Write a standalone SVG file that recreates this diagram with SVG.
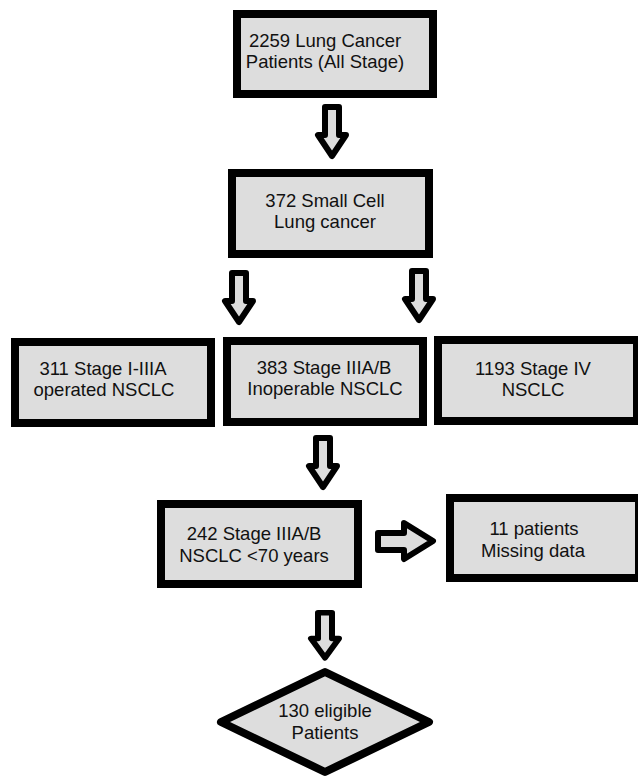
<svg xmlns="http://www.w3.org/2000/svg" width="638" height="777" viewBox="0 0 638 777">
<style>
.box{fill:#dddddd;stroke:#000;stroke-width:8}
.dia{fill:#dddddd;stroke:#000;stroke-width:8;stroke-linejoin:round}
.arr{fill:#dddddd;stroke:#000;stroke-width:6;stroke-linejoin:round}
text{font-family:"Liberation Sans",Arial,sans-serif;font-size:18.5px;fill:#111;text-anchor:middle}
</style>
<defs>
<path id="down" d="M-7,3 L7,3 L7,31 L14,31 L0,52 L-14,31 L-7,31 Z"/>
</defs>
<rect width="638" height="777" fill="#fff"/>
<g id="connectors">
<use href="#down" class="arr" transform="translate(332,104)"/>
<use href="#down" class="arr" transform="translate(239,270)"/>
<use href="#down" class="arr" transform="translate(419,268)"/>
<use href="#down" class="arr" transform="translate(323,435)"/>
<use href="#down" class="arr" transform="translate(325,610) scale(1,0.92)"/>
<path class="arr" d="M378,533 L404,533 L404,523 L433,541 L404,559 L404,550 L378,550 Z"/>
</g>
<g id="n1">
<rect class="box" x="237" y="14" width="196" height="80"/>
<text x="325" y="47">2259 Lung Cancer</text>
<text x="325" y="68">Patients (All Stage)</text>
</g>
<g id="n2">
<rect class="box" x="232" y="173" width="197" height="81"/>
<text x="325" y="207">372 Small Cell</text>
<text x="325" y="228">Lung cancer</text>
</g>
<g id="n3">
<rect class="box" x="15" y="342" width="196" height="81"/>
<text x="103" y="375">311 Stage I-IIIA</text>
<text x="104" y="396">operated NSCLC</text>
</g>
<g id="n4">
<rect class="box" x="227" y="341" width="196" height="81"/>
<text x="324" y="374">383 Stage IIIA/B</text>
<text x="325" y="395">Inoperable NSCLC</text>
</g>
<g id="n5">
<rect class="box" x="438" y="340" width="199" height="81"/>
<text x="533" y="375">1193 Stage IV</text>
<text x="533" y="396">NSCLC</text>
</g>
<g id="n6">
<rect class="box" x="161" y="504" width="197" height="80"/>
<text x="254" y="540">242 Stage IIIA/B</text>
<text x="254" y="562">NSCLC &lt;70 years</text>
</g>
<g id="n7">
<rect class="box" x="450" y="498" width="189" height="80"/>
<text x="534" y="535">11 patients</text>
<text x="533" y="557">Missing data</text>
</g>
<g id="n8">
<path class="dia" d="M325,672 L429,722 L325,772 L221,722 Z"/>
<text x="325" y="717">130 eligible</text>
<text x="325" y="739">Patients</text>
</g>
</svg>
